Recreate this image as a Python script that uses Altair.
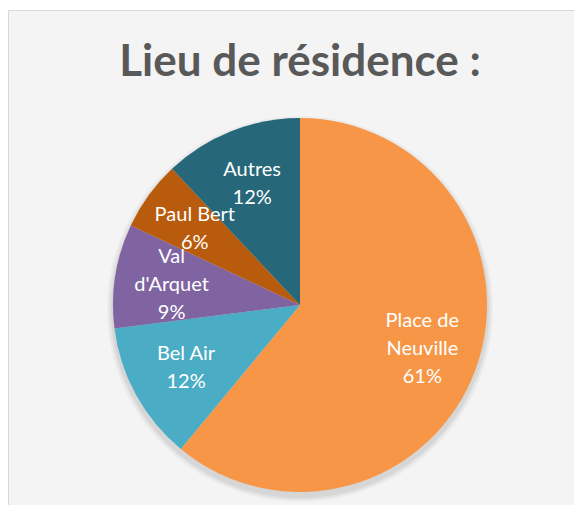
import math
import textwrap
import altair as alt
import pandas as pd

# ---- data ----
categories = ["Place de Neuville", "Bel Air", "Val d'Arquet", "Paul Bert", "Autres"]
percentages = [61, 12, 9, 6, 12]
colors = ["#F79646", "#4BACC6", "#8064A2", "#B95B0D", "#27677A"]
title_text = "Lieu de résidence :"

df = pd.DataFrame({
    "cat": categories,
    "pct": percentages,
    "order": list(range(len(categories))),
})
df["label"] = ["\n".join(textwrap.wrap(c, 9)) + f"\n{p}%" for c, p in zip(categories, percentages)]
df["nlines"] = [lbl.count("\n") + 1 for lbl in df["label"]]

# ---- layout ----
W, H = 566, 495
CX, CY = 292, 295
R = 187
FONT = "Lato"
LH = 28

one = pd.DataFrame({"t": [title_text]})

shadows = []
for dr, op in [(6, 0.03), (4, 0.04), (2, 0.05)]:
    shadows.append(
        alt.Chart(one).mark_arc(theta=0, theta2=2 * math.pi, outerRadius=R + dr,
                                color="#000000", opacity=op)
        .encode(x=alt.value(CX), y=alt.value(CY + 4))
    )

pie = alt.Chart(df).mark_arc(outerRadius=R, stroke=None).encode(
    theta=alt.Theta("pct:Q", stack=True),
    order=alt.Order("order:Q"),
    color=alt.Color("cat:N", scale=alt.Scale(domain=categories, range=colors), legend=None),
    x=alt.value(CX),
    y=alt.value(CY),
)

label_layers = []
for n in sorted(set(df["nlines"])):
    label_layers.append(
        alt.Chart(df).mark_text(
            radius=130, font=FONT, fontSize=20, color="white", lineBreak="\n",
            lineHeight=LH, align="center", baseline="middle", dy=-(n - 1) * LH / 2,
        ).encode(
            theta=alt.Theta("pct:Q", stack=True),
            order=alt.Order("order:Q"),
            text=alt.condition(f"datum.nlines == {n}", "label:N", alt.value("")),
            x=alt.value(CX),
            y=alt.value(CY),
        )
    )

title = alt.Chart(one).mark_text(
    font=FONT, fontSize=44, fontWeight="bold", color="#595959",
    align="center", baseline="alphabetic",
).encode(text="t:N", x=alt.value(CX), y=alt.value(66))

chart = alt.layer(*shadows, pie, *label_layers, title).properties(
    width=W, height=H,
    autosize=alt.AutoSizeParams(type="none"),
    padding={"left": 0, "top": 2, "right": 0, "bottom": 0},
    background="white",
).configure_view(fill="#F4F4F4", stroke="#D9D9D9", strokeWidth=1)

chart.save("out.html", embed_options={"renderer": "svg", "actions": False})
